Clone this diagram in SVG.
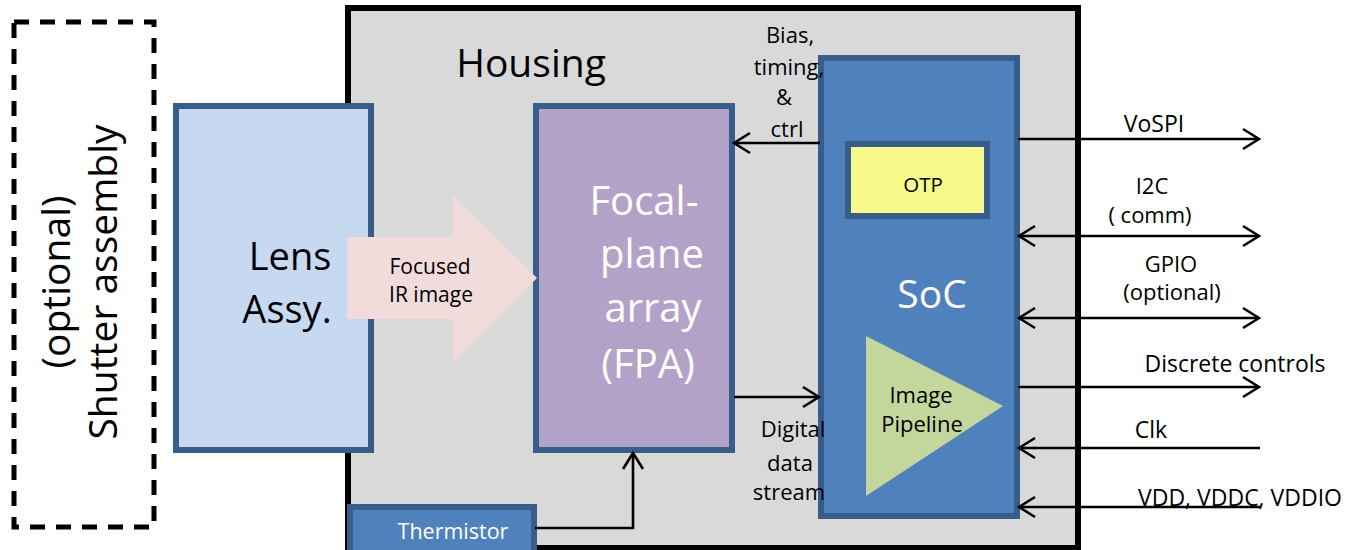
<svg xmlns="http://www.w3.org/2000/svg" width="1355" height="550" viewBox="0 0 1355 550">
<defs>
<marker id="ah" viewBox="0 0 20 24" refX="18" refY="12" markerWidth="20" markerHeight="24" markerUnits="userSpaceOnUse" orient="auto-start-reverse">
<path d="M2,2 L18,12 L2,22" fill="none" stroke="#000" stroke-width="2.6"/>
</marker>
<style>
text{font-family:"Open Sans",Lato,"Liberation Sans",sans-serif;text-anchor:middle}
.blk{fill:#000}
.wht{fill:#fff}
.box{stroke:#385d8a;stroke-width:6}
.conn{stroke:#000;stroke-width:2.6;fill:none}
.lbl{font-size:23px;fill:#000}
.sml{font-size:22px;fill:#000}
</style>
</defs>
<rect width="1355" height="550" fill="#fff"/>
<g id="housing">
<rect x="348" y="8" width="730" height="540" fill="#d9d9d9" stroke="#000" stroke-width="6"/>
<text x="531" y="77" font-size="39" class="blk">Housing</text>
</g>
<g id="shutter">
<rect x="14" y="22" width="140" height="505" fill="none" stroke="#000" stroke-width="5" stroke-dasharray="15,11"/>
<text transform="translate(70,282) rotate(-90)" font-size="39" class="blk">(optional)</text>
<text transform="translate(117,282) rotate(-90)" font-size="39" class="blk">Shutter assembly</text>
</g>
<g id="lens">
<rect x="176" y="106" width="195" height="344" fill="#c6d9f1" class="box"/>
<text x="290" y="270" font-size="38" class="blk">Lens</text>
<text x="287" y="323" font-size="38" class="blk">Assy.</text>
</g>
<g id="fpa">
<rect x="536" y="106" width="196" height="344" fill="#b3a2c7" class="box"/>
<text x="644" y="215" font-size="40" class="wht">Focal-</text>
<text x="652" y="268" font-size="40" class="wht">plane</text>
<text x="653" y="322" font-size="40" class="wht">array</text>
<text x="648" y="378" font-size="40" class="wht">(FPA)</text>
</g>
<g id="ir-arrow">
<polygon points="347,237 453,237 453,196 537,278 453,362 453,319 347,319" fill="#f2dcdb"/>
<text x="430" y="274" font-size="21" class="blk">Focused</text>
<text x="431" y="302" font-size="21" class="blk">IR image</text>
</g>
<g id="soc">
<rect x="821" y="58" width="196" height="458" fill="#4f81bd" class="box"/>
<text x="932" y="308" font-size="39" class="wht">SoC</text>
</g>
<g id="otp">
<rect x="848" y="144" width="139" height="72" fill="#f9f88a" class="box"/>
<text x="923" y="192" font-size="20.5" class="blk">OTP</text>
</g>
<g id="pipeline">
<polygon points="866,336 866,496 1003,406" fill="#c3d69b"/>
<text x="921" y="403" class="sml">Image</text>
<text x="922" y="432" class="sml">Pipeline</text>
</g>
<g id="thermistor">
<rect x="350" y="507" width="184" height="50" fill="#4f81bd" class="box"/>
<text x="453" y="539" font-size="21.5" class="wht">Thermistor</text>
</g>
<g id="connectors">
<path class="conn" d="M535,528 H633 V453" marker-end="url(#ah)"/>
<path class="conn" d="M820,143 H734" marker-end="url(#ah)"/>
<path class="conn" d="M734,397 H819" marker-end="url(#ah)"/>
<path class="conn" d="M1018,139 H1259" marker-end="url(#ah)"/>
<path class="conn" d="M1019,236 H1259" marker-start="url(#ah)" marker-end="url(#ah)"/>
<path class="conn" d="M1019,318 H1259" marker-start="url(#ah)" marker-end="url(#ah)"/>
<path class="conn" d="M1018,387 H1259" marker-end="url(#ah)"/>
<path class="conn" d="M1260,448 H1019" marker-end="url(#ah)"/>
<path class="conn" d="M1260,507 H1019" marker-end="url(#ah)"/>
</g>
<g id="labels">
<text x="790" y="43" class="sml">Bias,</text>
<text x="789" y="75" class="sml">timing,</text>
<text x="784" y="105" class="sml">&amp;</text>
<text x="787" y="137" class="sml">ctrl</text>
<text x="793" y="437" class="sml">Digital</text>
<text x="790" y="471" class="sml">data</text>
<text x="789" y="500" class="sml">stream</text>
<text x="1154" y="132" class="lbl">VoSPI</text>
<text x="1152" y="194" class="sml">I2C</text>
<text x="1150" y="223" class="sml">( comm)</text>
<text x="1171" y="272" class="sml">GPIO</text>
<text x="1172" y="300" class="sml">(optional)</text>
<text x="1235" y="372" class="lbl">Discrete controls</text>
<text x="1151" y="438" class="lbl">Clk</text>
<text x="1240" y="506" class="lbl">VDD, VDDC, VDDIO</text>
</g>
</svg>
